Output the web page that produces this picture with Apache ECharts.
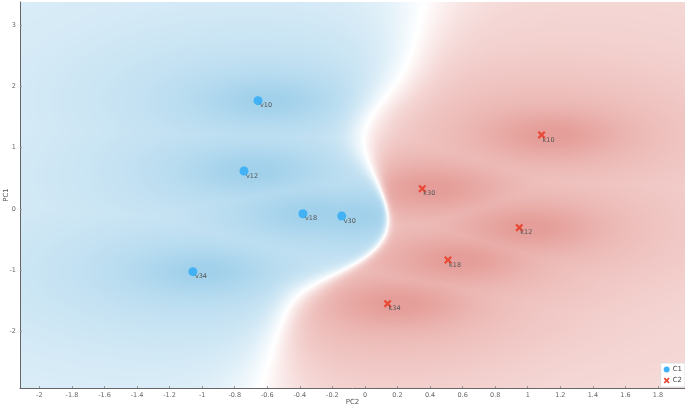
<!DOCTYPE html>
<html><head><meta charset="utf-8">
<script src="https://cdn.jsdelivr.net/npm/echarts@6/dist/echarts.min.js"></script>
<style>html,body{margin:0;padding:0;background:#fff}#c{width:685px;height:405px}</style>
</head><body><div id="c"></div>
<script>
// ---- data ----
const c1Names = ['v10', 'v12', 'v18', 'v30', 'v34'];
const c1X = [-0.657, -0.743, -0.381, -0.143, -1.057];
const c1Y = [1.766, 0.62, -0.077, -0.114, -1.022];
const c2Names = ['k10', 'k30', 'k12', 'k18', 'k34'];
const c2X = [1.085, 0.352, 0.948, 0.51, 0.139];
const c2Y = [1.207, 0.331, -0.305, -0.832, -1.544];
const xTicks = [-2, -1.8, -1.6, -1.4, -1.2, -1, -0.8, -0.6, -0.4, -0.2, 0, 0.2, 0.4, 0.6, 0.8, 1, 1.2, 1.4, 1.6, 1.8];
const yTicks = [-2, -1, 0, 1, 2, 3];

// ---- layout ----
const X_MIN = -2.119, X_MAX = 1.966, Y_MIN = -2.919, Y_MAX = 3.375;
const FONT = 'DejaVu Sans';

// decision surface derived from the two classes' points
function field(x, y) {
  const KY = 0.5, T = 0.15;
  function cls(X, Y) {
    let m = Infinity; const ds = [];
    let broad = 0, narrow = 0;
    for (let i = 0; i < X.length; i++) {
      const dx = x - X[i], dy = y - Y[i];
      const d = dx * dx + KY * KY * dy * dy;
      ds.push(d); if (d < m) m = d;
      broad = Math.max(broad, Math.exp(-(dx * dx + dy * dy) / (2 * 0.8 * 0.8)));
      const nx = dx - 0.07;
      narrow = Math.max(narrow, Math.exp(-(nx * nx / (2 * 0.28 * 0.28) + dy * dy / (2 * 0.26 * 0.26))));
    }
    let s = 0; for (const d of ds) s += Math.exp(-(d - m) / T);
    return { D: m - T * Math.log(s), broad, narrow };
  }
  const a = cls(c1X, c1Y), b = cls(c2X, c2Y);
  const r = (a.D - b.D) / (Math.abs(a.D) + Math.abs(b.D) + 1e-9);
  const w = r < 0 ? a : b;
  return { r, broad: w.broad, narrow: w.narrow };
}

let bgCache = null;
function renderBg(params, api) {
  const p0 = api.coord([X_MIN, Y_MAX]), p1 = api.coord([X_MAX, Y_MIN]);
  const w = Math.max(1, Math.round(p1[0] - p0[0])), h = Math.max(1, Math.round(p1[1] - p0[1]));
  if (!bgCache || bgCache.width !== w || bgCache.height !== h) {
    const cv = document.createElement('canvas'); cv.width = w; cv.height = h;
    const ctx = cv.getContext('2d'); const img = ctx.createImageData(w, h);
    const blue = [162, 209, 235], red = [229, 158, 153];
    const A0 = 0.44, A1 = 0.33, B = 0.25, R0 = 0.33;
    for (let j = 0; j < h; j++) {
      const y = Y_MAX - (j + 0.5) / h * (Y_MAX - Y_MIN);
      for (let i = 0; i < w; i++) {
        const x = X_MIN + (i + 0.5) / w * (X_MAX - X_MIN);
        const f = field(x, y);
        const s = Math.tanh(Math.abs(f.r) / R0);
        const I = Math.min(1, s * (A0 + A1 * f.broad + B * f.narrow));
        const col = f.r < 0 ? blue : red;
        const k = (j * w + i) * 4;
        img.data[k] = 255 - I * (255 - col[0]);
        img.data[k + 1] = 255 - I * (255 - col[1]);
        img.data[k + 2] = 255 - I * (255 - col[2]);
        img.data[k + 3] = 255;
      }
    }
    ctx.putImageData(img, 0, 0);
    bgCache = cv;
  }
  return { type: 'image', silent: true, style: { image: bgCache, x: p0[0], y: p0[1], width: w, height: h } };
}

const crossPath = 'path://M0,2 L2,0 L5,3 L8,0 L10,2 L7,5 L10,8 L8,10 L5,7 L2,10 L0,8 L3,5 Z';
const fmt = v => String(+(+v).toFixed(1));

const chart = echarts.init(document.getElementById('c'), null, { renderer: 'canvas' });
chart.setOption({
  animation: false,
  textStyle: { fontFamily: FONT },
  grid: { left: 20, right: 0, top: 2, bottom: 17, containLabel: false, outerBoundsMode: 'none' },
  xAxis: {
    type: 'value', min: X_MIN, max: X_MAX,
    name: 'PC2', nameLocation: 'middle', nameGap: 14, nameMoveOverlap: false,
    nameTextStyle: { fontSize: 7, color: '#555', fontFamily: FONT, verticalAlign: 'middle' },
    axisLine: { show: true, onZero: false, lineStyle: { color: '#666', width: 1 } },
    axisTick: { show: true, inside: true, length: 2, customValues: xTicks, lineStyle: { color: '#999' } },
    axisLabel: { customValues: xTicks, fontSize: 6.5, color: '#666', margin: 4, formatter: fmt, fontFamily: FONT },
    splitLine: { show: false }
  },
  yAxis: {
    type: 'value', min: Y_MIN, max: Y_MAX,
    name: 'PC1', nameLocation: 'middle', nameGap: 13.5, nameRotate: 90, nameMoveOverlap: false,
    nameTextStyle: { fontSize: 7, color: '#555', fontFamily: FONT, verticalAlign: 'middle' },
    axisLine: { show: true, onZero: false, lineStyle: { color: '#666', width: 1 } },
    axisTick: { show: true, inside: true, length: 2, customValues: yTicks, lineStyle: { color: '#999' } },
    axisLabel: { customValues: yTicks, fontSize: 6.5, color: '#666', margin: 4, formatter: fmt, fontFamily: FONT },
    splitLine: { show: false }
  },
  legend: {
    orient: 'vertical', right: 0, bottom: 18,
    data: ['C1', 'C2'],
    itemWidth: 6, itemHeight: 6, itemGap: 4,
    padding: [3, 3, 3, 3],
    backgroundColor: '#fff', borderColor: '#ddd', borderWidth: 1,
    textStyle: { fontSize: 7, color: '#444', fontFamily: FONT, padding: [0, 0, 0, -2] }
  },
  series: [
    {
      type: 'custom', name: 'surface', coordinateSystem: 'cartesian2d',
      data: [[0, 0]], renderItem: renderBg, silent: true, z: 0, clip: true
    },
    {
      type: 'scatter', name: 'C1', symbol: 'circle', symbolSize: 9, z: 5,
      itemStyle: { color: '#42b2f4', opacity: 1 },
      data: c1X.map((x, i) => ({ value: [x, c1Y[i]], name: c1Names[i] })),
      label: { show: true, formatter: p => p.name, position: [6.5, 6], fontSize: 6.5, color: '#555', fontFamily: FONT }
    },
    {
      type: 'scatter', name: 'C2', symbol: crossPath, symbolSize: 8, z: 5,
      itemStyle: { color: '#e84a35', opacity: 1 },
      data: c2X.map((x, i) => ({ value: [x, c2Y[i]], name: c2Names[i] })),
      label: { show: true, formatter: p => p.name, position: [5, 5.5], fontSize: 6.5, color: '#555', fontFamily: FONT }
    }
  ]
});
</script></body></html>
